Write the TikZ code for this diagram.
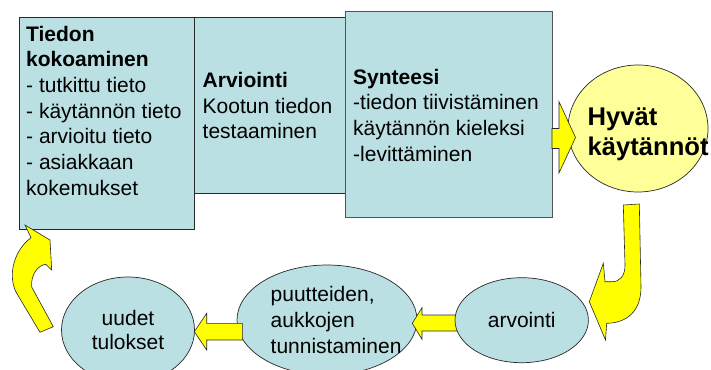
\documentclass[tikz,border=0pt]{standalone}
\usepackage{fontspec}
\setmainfont{Liberation Sans}
\usetikzlibrary{shapes.geometric}
\definecolor{boxfill}{RGB}{187,224,227}
\definecolor{hyvfill}{RGB}{255,255,153}
\definecolor{arrfill}{RGB}{255,255,0}
\definecolor{edgecol}{RGB}{40,40,40}
\begin{document}
\begin{tikzpicture}[x=1pt,y=-1pt,
  box/.style={draw=edgecol, line width=0.8pt, fill=boxfill, inner sep=0pt, anchor=north west},
  ell/.style={ellipse, draw=edgecol, line width=0.7pt, fill=boxfill, inner sep=0pt},
  txtfont/.style={font=\fontsize{21}{25.7}\selectfont},
  txt/.style={inner sep=0pt, align=left, txtfont, anchor=north west},
  blockarrow/.style={draw=edgecol, line width=0.6pt, fill=arrfill, line join=miter}]
\clip (0,0) rectangle (711,369);
\fill[white] (0,0) rectangle (711,369);
% boxes
\node[box, minimum width=175, minimum height=212] (b1) at (19,17) {};
\node[box, minimum width=151, minimum height=176] (b2) at (194,17) {};
\node[box, draw=edgecol!80, minimum width=207, minimum height=206] (b3) at (345,11) {};
\node[txt] (t1) at (26,25.7) {\textbf{Tiedon}\\\textbf{kokoaminen}\\- tutkittu tieto\\- käytännön tieto\\- arvioitu tieto\\- asiakkaan\\kokemukset};
\node[txt] (t2) at (202.5,72) {\textbf{Arviointi}\\Kootun tiedon\\testaaminen};
\node[txt] (t3) at (353,68.7) {\textbf{Synteesi}\\-tiedon tiivistäminen\\käytännön kieleksi\\-levittäminen};
% good practices
\node[ell, fill=hyvfill, minimum width=140, minimum height=127] (hyv) at (638,128.5) {};
\draw[blockarrow] (552,128.5) -- (559,128.5) -- (559,101.7) -- (575.5,137.5) -- (559,173) -- (559,148.5) -- (552,148.5) -- cycle;
\node[txt, font=\bfseries\fontsize{25.6}{30}\selectfont] (th) at (587.5,107.2) {Hyvät\\käytännöt};
% lower cycle
\node[ell, minimum width=180, minimum height=110] (puu) at (327,320) {};
\node[txt] (tp) at (270.5,286.5) {puutteiden,\\aukkojen\\tunnistaminen};
\node[ell, minimum width=133, minimum height=106, align=center, font=\fontsize{21}{24.7}\selectfont] (uud) at (128,330) {uudet\\tulokset};
\draw[blockarrow] (242.3,323.3) -- (206.7,323.3) -- (206.7,313.3) -- (194.3,331.7) -- (206.7,350) -- (206.7,340) -- (242.3,340) -- cycle;
\draw[blockarrow] (460,315) -- (422,315) -- (422,307.7) -- (412.3,323.3) -- (422,339.3) -- (422,331) -- (460,331) -- cycle;
\node[ell, minimum width=133.4, minimum height=85, txtfont] (arv) at (521.7,320.2) {arvointi};
% curved arrows
\draw[blockarrow] (623.3,205) -- (639.3,204) -- (641,287) .. controls (641,312) and (626,323) .. (606.7,323.3) -- (605.5,340) -- (589.3,301.7) -- (603.3,263.3) -- (605,281.7) -- (612,281.7) .. controls (620,281.7) and (625,276) .. (625,265) -- cycle;
\draw[blockarrow] (25,225) -- (50,240) -- (51.7,270) -- (45.7,264.3) .. controls (38,265) and (30.5,275) .. (31.7,287) -- (53.3,326.7) -- (40,332.3) -- (16.7,293.3) .. controls (8,278) and (12,252) .. (31,237.7) -- cycle;
\end{tikzpicture}
\end{document}
